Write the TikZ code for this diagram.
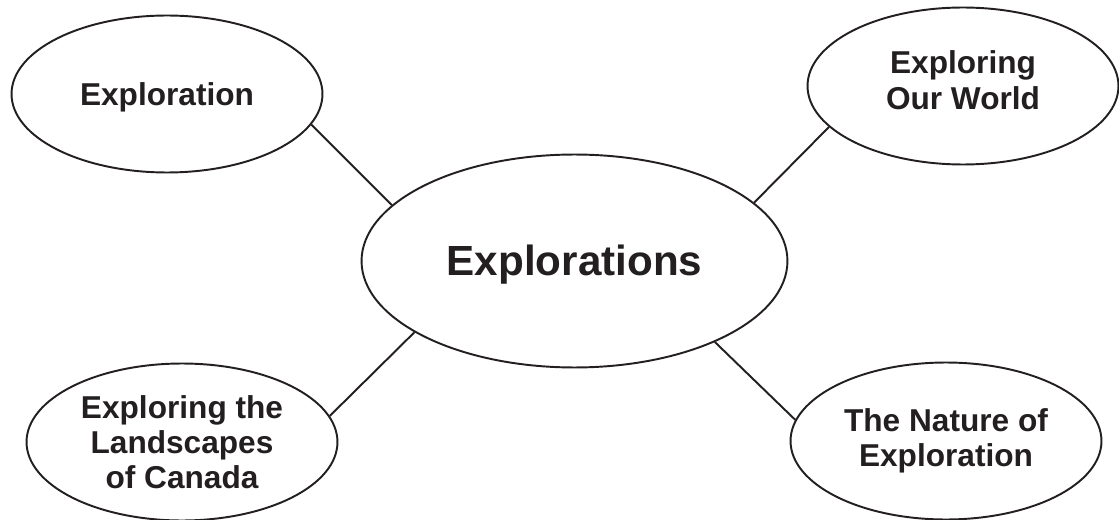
\documentclass[tikz,border=0pt]{standalone}
\usepackage{fontspec}
\setmainfont{Liberation Sans}
\usetikzlibrary{shapes.geometric}
\definecolor{ink}{HTML}{231F20}

\begin{document}
\begin{tikzpicture}[x=0.02cm,y=-0.02cm,
        topic/.style = {draw=ink,text=ink,ellipse,line width=1.1pt,inner sep=0pt,align=center,
                        minimum width=6.22cm,minimum height=3.14cm,
                        font=\fontsize{18}{20}\selectfont\bfseries},
        link/.style = {draw=ink,line width=1.1pt}]
    \useasboundingbox (0,0) rectangle (1119,520);

    \node[topic,minimum width=8.52cm,minimum height=4.26cm,text height=22pt,
          font=\fontsize{24}{26}\selectfont\bfseries]
        (main) at (574.5,261) {Explorations};

    \node[topic,text height=16.5pt] (exploration) at (167,94) {Exploration};
    \node[topic,text depth=0.24cm] (world) at (963,86) {Exploring\\Our World};
    \node[topic] (canada) at (182,442) {Exploring the\\Landscapes\\of Canada};
    \node[topic] (nature) at (946,441) {The Nature of\\Exploration};

    %\draw[link] (main) -- (exploration);
    \draw[link] (exploration.-12) -- (main.163);
    \draw[link] (world.197) -- (main.18);
    \draw[link] (canada.10) -- (main.204);
    \draw[link] (nature.172) -- (main.-30);
\end{tikzpicture}
\end{document}
